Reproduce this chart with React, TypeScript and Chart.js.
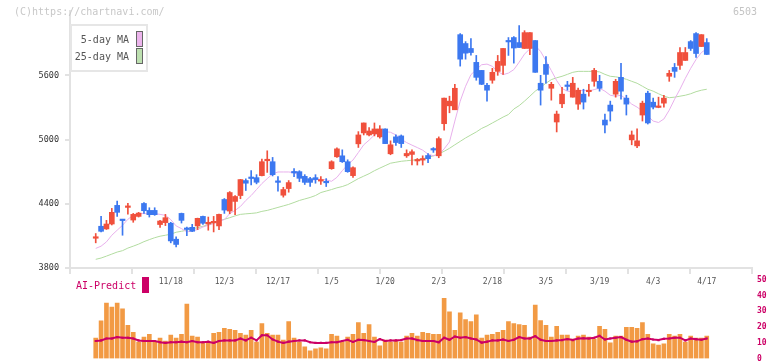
import React, { useEffect, useRef } from 'react';
import { Chart, registerables } from 'chart.js';
Chart.register(...registerables);

// ---- data ----
const dateLabels = ['11/18', '12/3', '12/17', '1/5', '1/20', '2/3', '2/18', '3/5', '3/19', '4/3', '4/17'];
const dateLabelIndex = [14, 24, 34, 44, 54, 64, 74, 84, 94, 104, 114];

const open = [4078,4190,4165,4211,4385,4250,4366,4248,4282,4403, 4338,4338,4206,4224,4218,4069,4310,4164,4180,4193, 4282,4211,4222,4193,4440,4332,4422,4477,4617,4642, 4644,4663,4802,4793,4605,4480,4542,4694,4700,4656, 4635,4644,4612,4602,4728,4839,4848,4793,4663,4960, 5062,5043,5053,5025,5099,4867,5025,5034,4848,4861, 4800,4808,4851,4907,4848,5148,5315,5278,5980,5897, 5851,5721,5646,5507,5554,5637,5693,5918,5953,5906, 5851,5851,5925,5526,5702,5479,5164,5334,5500,5396, 5331,5424,5447,5544,5544,5182,5322,5424,5581,5387, 4997,4941,5229,5433,5349,5300,5340,5591,5674,5693, 5739,5915,5990,5869,5906];
const high = [4122,4282,4245,4357,4425,4255,4403,4310,4320,4412, 4363,4363,4245,4301,4227,4091,4313,4183,4208,4266, 4285,4276,4282,4303,4449,4514,4477,4628,4633,4709, 4672,4818,4895,4833,4654,4554,4617,4728,4709,4672, 4647,4672,4654,4635,4802,4923,4904,4811,4746,5074, 5155,5111,5155,5130,5099,4988,5043,5043,4904,4904, 4823,4848,4870,4925,5025,5387,5405,5516,5990,5915, 5943,5786,5646,5526,5665,5786,5851,5953,5962,6064, 6017,5999,5925,5600,5776,5535,5266,5489,5544,5581, 5482,5470,5516,5665,5600,5238,5359,5563,5711,5414, 5080,5099,5359,5452,5387,5396,5414,5646,5711,5860, 5860,5925,5999,5980,5943];
const low = [4035,4137,4160,4202,4282,4106,4303,4227,4276,4310, 4276,4292,4178,4196,4035,3998,4220,4103,4140,4159, 4208,4153,4137,4159,4310,4307,4298,4447,4524,4577, 4586,4660,4693,4660,4517,4462,4508,4654,4607,4580, 4561,4592,4580,4561,4722,4833,4786,4694,4647,4926, 5043,5034,5034,5013,4962,4858,4944,4926,4833,4762, 4762,4762,4784,4880,4830,5087,5250,5278,5686,5751, 5788,5554,5513,5359,5526,5600,5609,5786,5714,5860, 5851,5792,5628,5322,5526,5368,5071,5297,5461,5396, 5282,5285,5405,5498,5452,5062,5173,5396,5377,5229, 4951,4923,5173,5145,5285,5297,5303,5544,5581,5656, 5739,5832,5767,5869,5795];
const close = [4084,4143,4211,4320,4320,4243,4380,4301,4313,4335, 4298,4298,4239,4270,4053,4020,4245,4160,4143,4264, 4218,4227,4236,4301,4341,4505,4468,4626,4592,4636, 4601,4793,4811,4672,4600,4533,4598,4688,4638,4600, 4600,4626,4621,4596,4793,4913,4793,4700,4737,5043, 5155,5080,5099,5099,4962,4951,4972,4962,4870,4886, 4805,4813,4821,4902,5009,5387,5359,5479,5751,5807, 5813,5581,5516,5461,5628,5730,5851,5912,5855,5860, 5999,5999,5628,5461,5609,5516,5238,5424,5496,5526, 5461,5350,5455,5646,5479,5136,5266,5544,5452,5331, 5043,4988,5340,5155,5303,5306,5387,5619,5637,5813, 5813,5851,5804,5980,5795];

const ma5 = [3983,4004,4044,4106,4153,4199,4255,4292,4308,4308, 4308,4308,4301,4292,4252,4193,4168,4137,4146,4159, 4183,4199,4215,4239,4252,4308,4338,4375,4431,4477, 4533,4589,4635,4679,4697,4697,4697,4691,4663,4632, 4617,4626,4629,4623,4610,4647,4709,4765,4809,4879, 4951,4994,5043,5068,5074,5068,5043,5003,4972,4948, 4925,4901,4864,4848,4858,4913,4978,5173,5359,5498, 5606,5653,5699,5705,5684,5637,5606,5621,5653,5723, 5798,5848,5878,5823,5736,5644,5551,5477,5452,5445, 5452,5461,5452,5467,5479,5452,5414,5405,5414,5377, 5331,5303,5266,5220,5173,5159,5192,5275,5377,5470, 5572,5665,5748,5813,5848];
const ma25 = [3881,3893,3911,3930,3949,3962,3986,4004,4023,4046, 4065,4083,4097,4106,4116,4134,4143,4153,4167,4176, 4190,4204,4222,4241,4255,4270,4287,4301,4306,4310, 4315,4329,4338,4352,4366,4380,4394,4412,4431,4445, 4459,4477,4505,4519,4533,4549,4561,4579,4607,4635, 4658,4681,4709,4733,4756,4779,4788,4797,4802,4807, 4811,4821,4833,4848,4867,4890,4918,4951,4983,5015, 5043,5071,5104,5127,5155,5182,5210,5234,5285,5317, 5359,5405,5452,5489,5526,5560,5577,5591,5609,5628, 5637,5637,5637,5637,5632,5609,5591,5586,5577,5563, 5544,5526,5498,5470,5452,5428,5405,5391,5396,5405, 5414,5428,5447,5461,5470];

const volume = [13,24,35.2,32.7,35.2,31.5,21,16.7,10.5,13.6, 15.4,10.5,13,11.1,14.8,13,15.4,34.6,14.2,13.6, 10.5,10.5,16,16.7,19.1,18.5,17.9,16,14.8,17.9, 10.5,22.2,16,14.8,14.8,11.7,23.5,13,10.5,7.4, 4.9,6.2,6.8,6.2,15.4,14.2,10.5,13.6,15.4,22.8, 16,21.6,13.6,8,11.7,10.5,11.7,10.5,14.2,16, 14.2,16.7,16,15.4,15.4,38.3,29.6,17.9,29,24.7, 23.5,27.8,13,14.8,15.4,16.7,17.9,23.5,22.2,21.6, 21,13.6,33.9,24.1,21,13.6,20.4,14.8,14.8,12.3, 14.2,14.8,13.6,12.3,20.4,18.5,9.9,14.2,14.2,19.8, 19.8,19.1,22.8,15.4,9.3,8.6,9.3,15.4,14.2,15.4, 10.5,14.2,13,13,14.2];
const aiPredict = [11.1,11.5,12.7,12.7,13.6,13.2,13.2,12.7,11.5,11.1, 11.1,11.1,10.3,9.9,10.3,10.3,10.7,10.3,11.1,10.3, 10.3,10.7,9.9,11.1,11.5,11.5,11.5,12.7,11.5,13.2, 11.5,14.8,14.8,12.1,10.7,9.9,10.7,11.1,11.5,11.5, 10.3,9.9,9.9,9.9,10.3,10.3,11.1,11.9,10.5,11.9, 11.7,11.1,10.5,12.3,11.1,11.5,11.5,11.7,12.7,12.7, 11.7,11.1,11.1,11.1,10.3,13.2,11.9,14,13.2,13.6, 12.7,12.1,10.1,10.7,11.5,11.5,12.1,11.1,11.9,13.6, 12.7,12.7,14.2,11.9,11.1,11.1,11.5,11.7,12.3,11.7, 12.7,12.9,12.7,13.2,14.4,12.1,12.7,13.2,13.6,11.9, 10.7,10.9,12.3,12.7,12.1,11.7,12.5,12.7,13.2,13.2, 11.5,12.7,12.3,11.9,12.7];

const priceTicks = [3800, 4400, 5000, 5600];
const volumeTicks = [0, 10, 20, 30, 40, 50];

// ---- style ----
const UP = '#f0503c';
const DOWN = '#3c78f0';
const AXIS = '#e2e2e2';
const MAGENTA = '#cc0066';
const MONO = 'DejaVu Sans Mono';
const X_MIN = -4.8;
const X_MAX = 122.44;
const GRID_DIVS = 11;

export default function App() {
  const priceRef = useRef<HTMLCanvasElement>(null);
  const volRef = useRef<HTMLCanvasElement>(null);

  useEffect(() => {
    const idx = open.map((_, i) => i);
    const colors = idx.map((i) => (close[i] >= open[i] ? UP : DOWN));
    const gridVals = Array.from({ length: GRID_DIVS + 1 }, (_, k) => X_MIN + (k * (X_MAX - X_MIN)) / GRID_DIVS);
    const isLabel = (v: number) => dateLabelIndex.indexOf(v) >= 0;

    const price = new Chart(priceRef.current as HTMLCanvasElement, {
      type: 'bar',
      data: {
        datasets: [
          {
            type: 'bar',
            label: 'body',
            data: idx.map((i) => ({ x: i, y: [open[i], close[i]] })) as any,
            backgroundColor: colors,
            barThickness: 5,
            grouped: false,
            minBarLength: 1.5,
          } as any,
          {
            type: 'bar',
            label: 'wick',
            data: idx.map((i) => ({ x: i, y: [low[i], high[i]] })) as any,
            backgroundColor: colors,
            barThickness: 1,
            grouped: false,
          } as any,
          {
            type: 'line',
            label: '5-day MA',
            data: idx.map((i) => ({ x: i, y: ma5[i] })),
            borderColor: '#e8b0ec',
            borderWidth: 1,
            pointRadius: 0,
            tension: 0,
          } as any,
          {
            type: 'line',
            label: '25-day MA',
            data: idx.map((i) => ({ x: i, y: ma25[i] })),
            borderColor: '#b2dca0',
            borderWidth: 1,
            pointRadius: 0,
            tension: 0,
          } as any,
        ],
      },
      options: {
        animation: false,
        responsive: false,
        devicePixelRatio: 1,
        layout: { padding: { left: 0, right: 20, top: 9.3, bottom: 0 } },
        plugins: { legend: { display: false }, tooltip: { enabled: false } },
        scales: {
          x: {
            type: 'linear',
            offset: false,
            min: X_MIN,
            max: X_MAX,
            afterBuildTicks: (s: any) => {
              const vals = [...gridVals, ...dateLabelIndex].sort((a, b) => a - b);
              s.ticks = vals.map((v) => ({ value: v }));
            },
            afterFit: (s: any) => {
              s.height = 32;
            },
            grid: {
              offset: false,
              drawOnChartArea: false,
              drawTicks: true,
              tickLength: 6,
              lineWidth: 2,
              tickColor: (ctx: any) => (ctx.tick && isLabel(ctx.tick.value) ? 'rgba(0,0,0,0)' : AXIS),
            },
            border: { display: true, color: AXIS, width: 2 },
            ticks: {
              autoSkip: false,
              maxRotation: 0,
              padding: 3,
              color: '#555',
              font: { family: MONO, size: 8 },
              callback: (v: any) => {
                const k = dateLabelIndex.indexOf(v);
                return k >= 0 ? dateLabels[k] : '';
              },
            },
          },
          y: {
            min: 3800,
            max: 6200,
            afterBuildTicks: (s: any) => {
              s.ticks = priceTicks.map((v) => ({ value: v }));
            },
            afterFit: (s: any) => {
              s.width = 70;
            },
            grid: { drawOnChartArea: false, tickLength: 5, lineWidth: 2, color: AXIS },
            border: { display: true, color: AXIS, width: 2 },
            ticks: {
              padding: 6,
              color: '#333',
              font: { family: MONO, size: 8.5 },
              callback: (v: any) => String(v),
            },
          },
        },
      } as any,
    });

    const vol = new Chart(volRef.current as HTMLCanvasElement, {
      type: 'bar',
      data: {
        datasets: [
          {
            type: 'line',
            label: 'AI-Predict',
            data: idx.map((i) => ({ x: i, y: aiPredict[i] })),
            borderColor: MAGENTA,
            borderWidth: 2,
            pointStyle: 'rect',
            pointRadius: 1.5,
            pointBackgroundColor: MAGENTA,
            pointBorderWidth: 0,
            tension: 0,
          } as any,
          {
            type: 'bar',
            label: 'Volume',
            data: idx.map((i) => ({ x: i, y: volume[i] })),
            backgroundColor: '#f29a44',
            barThickness: 4,
            grouped: false,
          } as any,
        ],
      },
      options: {
        animation: false,
        responsive: false,
        devicePixelRatio: 1,
        layout: { padding: { left: 70, right: 0, top: 7.5, bottom: 11.5 } },
        plugins: { legend: { display: false }, tooltip: { enabled: false } },
        scales: {
          x: { type: 'linear', offset: false, min: X_MIN, max: X_MAX, display: false },
          y: {
            position: 'right',
            min: 0,
            max: 50,
            afterBuildTicks: (s: any) => {
              s.ticks = volumeTicks.map((v) => ({ value: v }));
            },
            afterFit: (s: any) => {
              s.width = 20;
            },
            grid: { display: false, drawTicks: false, tickLength: 0 },
            border: { display: false },
            ticks: { padding: 5, color: MAGENTA, font: { family: MONO, size: 8, weight: 'bold' } },
          },
        },
      } as any,
    });

    return () => {
      price.destroy();
      vol.destroy();
    };
  }, []);

  const text = (extra: React.CSSProperties): React.CSSProperties => ({
    position: 'absolute',
    fontFamily: MONO,
    fontSize: 10,
    lineHeight: '12px',
    whiteSpace: 'nowrap',
    ...extra,
  });

  return (
    <div style={{ position: 'absolute', left: 0, top: 0, width: 772, height: 361, background: '#fff', overflow: 'hidden' }}>
      <canvas ref={priceRef} width={772} height={300} style={{ position: 'absolute', left: 0, top: 0, width: 772, height: 300 }} />
      <canvas ref={volRef} width={772} height={100} style={{ position: 'absolute', left: 0, top: 270, width: 772, height: 100 }} />
      <div style={text({ left: 14, top: 6, color: '#c8c8c8' })}>(C)https://chartnavi.com/</div>
      <div style={text({ left: 733, top: 6, color: '#c4c4c4' })}>6503</div>
      <div style={{ position: 'absolute', left: 70, top: 24, width: 78, height: 48, boxSizing: 'border-box', border: '2px solid #e6e6e6', background: '#fff' }} />
      <div style={text({ left: 60, width: 69, top: 34, textAlign: 'right', color: '#555' })}>5-day MA</div>
      <div style={text({ left: 60, width: 69, top: 51, textAlign: 'right', color: '#555' })}>25-day MA</div>
      <div style={{ position: 'absolute', left: 136, top: 31, width: 7, height: 16, boxSizing: 'border-box', border: '1px solid #666', background: '#ecb4ec' }} />
      <div style={{ position: 'absolute', left: 136, top: 48, width: 7, height: 16, boxSizing: 'border-box', border: '1px solid #666', background: '#bde0b0' }} />
      <div style={text({ left: 76, top: 280, color: MAGENTA })}>AI-Predict</div>
      <div style={{ position: 'absolute', left: 142, top: 277, width: 7, height: 16, background: MAGENTA }} />
    </div>
  );
}
